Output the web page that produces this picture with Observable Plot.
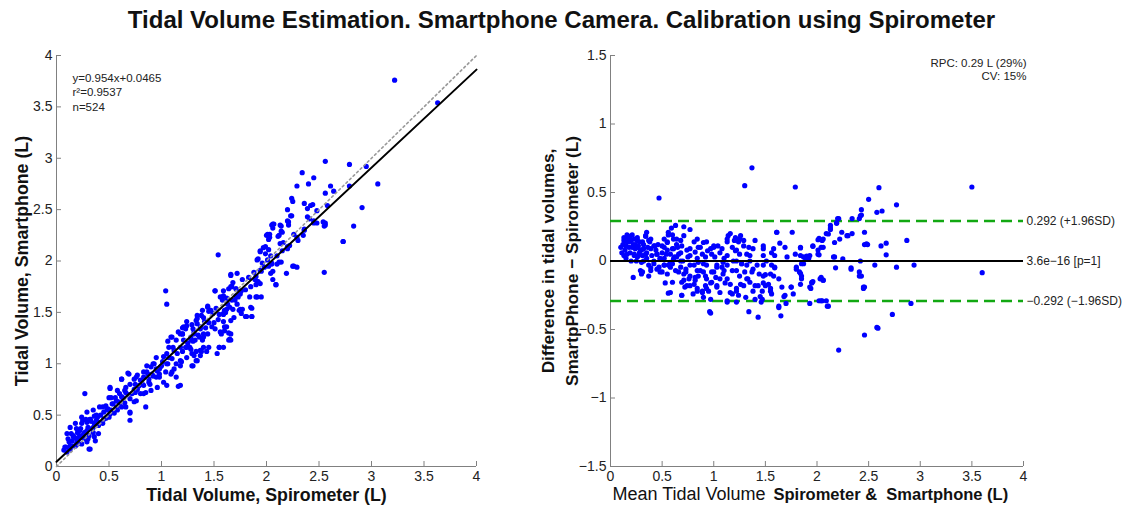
<!DOCTYPE html>
<html><head><meta charset="utf-8">
<script src="https://cdn.jsdelivr.net/npm/d3@7"></script>
<script src="https://cdn.jsdelivr.net/npm/@observablehq/plot@0.6"></script>
<style>
body{margin:0;background:#fff;font-family:"Liberation Sans",Arial,sans-serif;}
#title{height:40px;line-height:40px;text-align:center;font-weight:bold;font-size:24px;color:#111;}
#row{display:flex;}
</style></head><body>
<div id="title">Tidal Volume Estimation. Smartphone Camera. Calibration using Spirometer</div>
<div id="row"><div id="left"></div><div id="right"></div></div>
<script>
// ---------- data ----------
const xTicksLeft = [0,0.5,1,1.5,2,2.5,3,3.5,4];
const yTicksLeft = [0,0.5,1,1.5,2,2.5,3,3.5,4];
const xTicksRight = [0,0.5,1,1.5,2,2.5,3,3.5,4];
const yTicksRight = [-1.5,-1,-0.5,0,0.5,1,1.5];
const fitSlope = 0.954, fitIntercept = 0.0465;
const fitText = "y=0.954x+0.0465\nr²=0.9537\nn=524";
const rpcText = "RPC: 0.29 L (29%)\nCV: 15%";
const meanDiff = 3.6e-16, loaUpper = 0.292, loaLower = -0.292;
const baLineLabels = ["0.292 (+1.96SD)", "3.6e−16 [p=1]", "−0.292 (−1.96SD)"];

// Spirometer (x) vs Smartphone (y), litres
const scatterPoints = [
[3.22,3.76],[3.63,3.54],[1.54,2.06],[2.56,2.97],[2.79,2.94],[2.95,2.92],[2.34,2.86],[2.45,2.81],[2.29,2.73],[2.40,2.75],[2.61,2.73],[2.64,2.68],[2.79,2.73],[3.06,2.75],[2.56,2.66],[2.24,2.61],[2.25,2.58],[2.36,2.56],[2.44,2.55],[2.39,2.51],[2.20,2.50],[2.58,2.54],[2.91,2.52],[2.24,2.44],[2.41,2.41],[2.21,2.38],[2.06,2.36],[2.14,2.34],[2.06,2.32],[2.45,2.37],[2.48,2.37],[2.55,2.34],[2.56,2.37],[2.83,2.34],[2.36,2.30],[2.14,2.29],[2.00,2.25],[2.03,2.26],[2.11,2.24],[2.02,2.21],[2.26,2.26],[2.73,2.19],[2.16,2.18],[2.22,2.15],[1.97,2.13],[1.94,2.10],[2.02,2.11],[1.99,2.07],[1.92,2.02],
[2.55,1.89],[2.25,1.95],[2.29,1.94],[2.19,1.88],[2.14,1.99],[2.10,1.97],[2.02,1.95],[2.04,1.88],[2.06,1.90],[2.09,1.77],[1.91,2.01],[1.96,1.98],[1.94,1.91],[1.88,1.89],[1.91,1.80],[1.94,1.78],[1.89,1.82],[1.83,1.84],[1.77,1.82],[1.72,1.88],[1.66,1.87],[1.68,1.79],[1.66,1.75],[1.71,1.73],[1.76,1.71],[1.91,1.65],[1.95,1.65],[1.71,1.66],[1.62,1.64],[1.67,1.62],[1.59,1.66],[1.63,1.58],[1.72,1.58],[1.77,1.53],[1.76,1.49],[1.86,1.54],[1.86,1.46],[1.81,1.46],[1.68,1.53],[1.62,1.53],[1.59,1.49],[1.52,1.54],[1.51,1.71],[1.45,1.51],[1.49,1.49],[1.44,1.56],[1.54,1.43],[1.59,1.41],[1.60,1.36],[1.64,1.30],[1.66,1.23],[1.57,1.29],[1.55,1.16],[1.51,1.34],[1.48,1.36],[1.39,1.52],[1.34,1.47],[1.41,1.41],[1.34,1.39],[1.29,1.38],[1.37,1.34],[1.44,1.29],[1.39,1.23],[1.31,1.29],[1.28,1.26],[1.23,1.34],[1.20,1.29],[1.24,1.41],[1.20,1.35],[1.16,1.31],[1.14,1.23],[1.09,1.26],[1.06,1.22],[1.07,1.16],[1.12,1.13],[1.18,1.16],[1.23,1.16],[1.28,1.14],[1.33,1.12],[1.38,1.12],[1.43,1.12],[1.31,1.08],[1.29,0.98],[1.34,1.03],[1.18,1.03],[1.14,1.00],[1.18,0.98],[1.12,0.95],[1.04,1.71],[1.05,1.58],[1.02,1.07],[1.01,1.02],[1.07,1.06],[0.99,0.97],[1.04,0.92],[1.09,0.90],[0.96,0.93],[0.93,1.00],[0.90,0.97],[0.91,0.90],[0.86,0.98],[0.86,0.92],[0.98,0.87],[1.02,0.82],[1.05,0.79],[1.16,0.78],[0.96,0.77],[0.88,0.82],[0.83,0.87],[0.80,0.84],[0.77,0.89],[0.83,0.79],[0.77,0.75],[0.80,0.71],[0.85,0.72],[0.85,0.58],[0.90,0.74],[0.75,0.80],[0.70,0.80],[0.69,0.90],[0.74,0.85],[0.72,0.71],[0.70,0.66],[0.74,0.63],[0.66,0.77],[0.62,0.85],[0.66,0.72],[0.63,0.67],[0.58,0.74],[0.56,0.67],[0.59,0.63],[0.70,0.52],[0.70,0.45],[0.66,0.58],[0.62,0.58],[0.58,0.55],[0.53,0.61],[0.51,0.77],[0.50,0.67],[0.47,0.59],[0.48,0.55],[0.51,0.51],[0.45,0.53],[0.42,0.50],[0.45,0.46],[0.39,0.48],[0.36,0.49],[0.32,0.46],[0.28,0.46],[0.27,0.71],[0.29,0.43],[0.24,0.42],[0.36,0.42],[0.40,0.40],[0.34,0.37],[0.29,0.35],[0.23,0.37],[0.20,0.33],[0.16,0.30],[0.26,0.32],[0.31,0.30],[0.36,0.29],[0.37,0.25],[0.21,0.27],[0.15,0.25],[0.12,0.24],[0.09,0.19],[0.13,0.17],[0.18,0.20],[0.24,0.22],[0.29,0.24],[0.32,0.17],[0.10,0.14],[0.07,0.16],
[0.68,0.91],[0.62,0.85],[0.51,0.76],[0.52,0.67],[0.57,0.64],[0.49,0.56],[0.44,0.58],[0.38,0.50],[0.32,0.46],[0.25,0.45],[0.19,0.37],[0.14,0.32],[0.11,0.27],[0.08,0.19],[0.31,0.17],[0.70,0.53],[0.76,0.64],[0.83,0.71],[0.79,0.79],[0.89,0.80],[0.87,0.90],[0.95,0.87],[0.98,0.95],[1.06,1.00],[1.10,0.92],[1.18,0.79],[1.14,0.87],[1.19,1.02],[1.24,1.06],[1.30,0.98],[1.33,1.03],[1.27,1.16],[1.32,1.23],[1.21,1.23],[1.10,1.26],[1.18,1.29],[1.24,1.37],[1.30,1.34],[1.33,1.42],[1.38,1.47],[1.40,1.29],[1.37,1.13],[1.11,1.16],[1.05,1.10],[0.95,1.06],[0.92,1.00],[0.83,0.92],[0.76,0.87],[0.74,0.75],[0.65,0.74],[0.60,0.71],[0.54,0.61],[0.41,0.58],[0.35,0.55],[0.29,0.53],[0.24,0.48],[0.18,0.42],[0.13,0.38],[0.10,0.32],[0.16,0.29],[0.22,0.30],[0.27,0.33],[0.35,0.38],[0.40,0.32],[0.30,0.27],[0.19,0.22],[0.13,0.20],
[2.73,2.19],[2.26,1.95],[2.09,1.77],[2.06,1.82],[1.92,1.80],[1.90,1.77],[1.84,1.65],[1.90,1.65],[1.66,1.86],[1.67,1.75],[1.64,1.73],[1.51,1.71],[1.59,1.71],[1.56,1.65],[1.58,1.62],[1.63,1.63],[1.73,1.65],[1.75,1.70],[1.71,1.73],[1.75,1.53],[1.80,1.46],[1.86,1.46],[1.85,1.55],[1.74,1.52],[1.69,1.45],[1.66,1.42],[1.61,1.50],[1.59,1.48],[1.62,1.36],[1.60,1.32],[1.65,1.24],[1.66,1.29],[1.56,1.31],[1.55,1.16],[1.64,1.23],[1.59,1.16],[1.53,1.10],[1.47,1.52],[1.44,1.55],[1.40,1.45],[1.45,1.40],[1.37,1.36],[1.34,1.44],[1.31,1.31],[1.36,1.26],[1.40,1.26],[1.28,1.23],[1.21,1.36],[1.20,1.29],[1.24,1.16],[1.29,1.10],[1.37,1.08],[1.45,1.16],[1.40,1.16],
[2.01,2.26],[2.03,2.23],[2.05,2.35],[2.07,2.36],[2.13,2.35],[2.15,2.28],[2.12,2.25],[2.20,2.39],[2.23,2.44],[2.21,2.35],[2.29,2.23],[2.36,2.31],[2.39,2.43],[2.45,2.39],[2.42,2.54],[2.48,2.49],[2.54,2.38],[2.56,2.35],[2.20,2.14],[2.15,2.10],[1.94,2.09],[1.99,2.14],[2.01,2.01],[1.98,1.94],[2.05,1.97],[2.12,1.99],[2.04,2.05],[2.13,2.17],
[0.15,0.20],[0.20,0.25],[0.25,0.30],[0.18,0.28],[0.22,0.35],[0.30,0.38],[0.27,0.33],[0.33,0.44],[0.38,0.45],[0.12,0.18],[0.20,0.22],[0.24,0.28],[0.28,0.27],[0.35,0.33],[0.40,0.43],[0.44,0.42],[0.47,0.47],[0.50,0.48],[0.55,0.52],[0.60,0.60],[0.65,0.62],[0.57,0.57],[0.52,0.55],[0.62,0.68],[0.68,0.70],[0.75,0.72],[0.78,0.78],[0.82,0.80],[0.88,0.85],[0.92,0.88],[0.95,0.95],[0.98,0.90],[1.00,0.98],[1.05,1.00],[1.10,1.05],[1.15,1.10],[1.20,1.12],[1.25,1.20],[1.30,1.22],[1.35,1.28],[1.42,1.35],[1.50,1.40],[1.55,1.48],[1.60,1.52],[1.65,1.55],[1.70,1.62],[1.75,1.68],[1.80,1.72],[1.85,1.75],[1.90,1.85],[1.95,1.90],[2.05,1.98],[2.10,2.05],[2.20,2.12],[2.30,2.20],[2.35,2.25]
];

// Bland-Altman: mean (x) vs difference (y), litres
const baPoints = [
[0.47,0.46],[1.30,0.55],[1.37,0.68],[1.79,0.54],[3.50,0.54],[2.60,0.535],[2.50,0.45],[2.77,0.41],[2.43,0.375],[2.58,0.355],[2.63,0.365],[2.42,0.33],[2.34,0.31],[2.21,0.31],[2.19,0.28],[2.13,0.26],[2.13,0.24],[2.09,0.20],[2.24,0.21],[2.30,0.185],[2.34,0.20],[2.46,0.21],[2.87,0.15],[2.67,0.13],[2.62,0.11],[2.46,0.12],[2.49,0.12],[2.22,0.16],[2.17,0.135],[2.02,0.165],[2.04,0.10],[2.06,0.10],[2.01,0.05],[2.16,0.03],[2.25,0.015],[2.67,0.045],[2.42,0.0],[2.56,-0.03],[2.77,-0.045],[2.94,-0.03],[3.60,-0.085],[2.18,-0.05],[2.33,-0.06],[2.41,-0.08],[2.43,-0.11],[2.46,-0.19],[2.45,-0.20],[2.73,-0.39],[2.91,-0.31],[2.59,-0.49],[2.46,-0.54],[2.21,-0.65],[2.10,-0.33],[2.05,-0.29],[2.02,-0.29],[2.06,-0.14],[2.03,-0.13],[1.93,-0.31],[1.93,-0.19],[1.95,-0.16],[1.96,-0.15],[1.89,0.015],[1.87,-0.02],[1.84,0.04],[1.84,0.10],[1.96,0.11],[1.76,0.21],[1.61,0.21],[1.64,0.13],[1.69,0.10],[1.71,0.03],[1.79,0.05],[1.80,-0.045],[1.83,-0.08],[1.85,-0.13],[1.84,-0.17],[1.77,-0.24],[1.75,-0.19],[1.69,-0.25],[1.70,-0.31],[1.65,-0.40],[1.63,-0.34],[1.66,-0.19],[1.63,-0.13],[1.59,-0.045],[1.56,-0.03],[1.55,-0.095],[1.53,-0.17],[1.55,-0.22],[1.56,-0.24],[1.50,-0.18],[1.48,-0.11],[1.48,-0.03],[1.48,0.04],[1.48,0.09],[1.56,0.06],[1.59,0.04],[1.44,-0.095],[1.43,-0.18],[1.47,-0.22],[1.45,-0.26],[1.46,-0.30],[1.43,-0.41],[1.40,-0.28],[1.38,-0.22],[1.34,-0.37],[1.31,-0.265],[1.35,-0.155],[1.33,-0.13],[1.30,-0.08],[1.32,-0.03],[1.38,-0.06],[1.35,0.04],[1.38,0.09],[1.34,0.10],[1.29,0.15],[1.26,0.185],[1.25,0.16],[1.20,0.15],[1.14,0.185],[1.13,0.16],[1.18,0.10],[1.21,0.075],[1.25,0.05],[1.22,0.0],[1.27,-0.02],[1.22,-0.07],[1.25,-0.11],[1.29,-0.18],[1.22,-0.20],[1.18,-0.24],[1.24,-0.25],[1.22,-0.30],[1.13,-0.30],[1.16,-0.17],[1.13,-0.13],[1.09,-0.095],[1.08,-0.045],[1.09,-0.01],[1.13,0.04],[1.08,0.09],[1.04,0.11],[1.00,0.10],[0.98,0.05],[1.01,0.03],[1.03,-0.045],[0.98,-0.08],[1.02,-0.12],[0.98,-0.155],[1.03,-0.19],[1.06,-0.23],[0.96,-0.37],[0.95,-0.22],[0.92,-0.18],[0.93,-0.13],[0.90,-0.08],[0.93,-0.03],[0.92,0.03],[0.94,0.075],[0.90,0.135],[0.87,0.10],[0.84,0.16],[0.82,0.065],[0.85,-0.01],[0.84,-0.07],[0.85,-0.11],[0.82,-0.14],[0.84,-0.22],[0.89,-0.22],[0.90,-0.265],[0.80,-0.24],[0.77,-0.18],[0.76,-0.13],[0.73,-0.08],[0.77,-0.03],[0.75,0.03],[0.77,0.09],[0.77,0.23],[0.71,0.25],[0.71,0.185],[0.68,0.15],[0.69,0.11],[0.66,0.05],[0.70,0.0],[0.68,-0.045],[0.71,-0.095],[0.69,-0.155],[0.72,-0.19],[0.69,-0.25],[0.63,0.26],[0.59,0.24],[0.56,0.19],[0.61,0.16],[0.64,0.12],[0.60,0.09],[0.55,0.135],[0.52,0.16],[0.50,0.11],[0.54,0.05],[0.61,0.015],[0.58,-0.045],[0.63,-0.07],[0.60,-0.155],[0.56,-0.235],[0.55,-0.095],[0.52,-0.03],[0.48,0.015],[0.50,-0.08],[0.47,-0.045],[0.45,0.05],[0.43,0.11],[0.39,0.16],[0.35,0.21],[0.34,0.185],[0.39,-0.07],[0.37,-0.03],[0.31,-0.08],[0.22,-0.12],[0.30,-0.095],
[0.16,0.19],[0.19,0.18],[0.13,0.17],[0.23,0.16],[0.26,0.15],[0.18,0.14],[0.15,0.11],[0.21,0.10],[0.24,0.12],[0.27,0.11],[0.31,0.14],[0.32,0.09],[0.29,0.08],[0.35,0.06],[0.19,0.06],[0.16,0.05],[0.23,0.04],[0.13,0.04],[0.26,0.03],[0.31,0.04],[0.39,0.09],[0.42,0.11],[0.37,0.15],[0.34,0.18],[0.45,0.05],[0.48,0.02],[0.52,0.10],[0.55,0.14],[0.56,0.21],[0.60,0.19],[0.64,0.16],[0.61,0.09],[0.68,0.06],[0.64,0.03],[0.58,-0.01],[0.52,-0.03],[0.45,-0.06],[0.39,-0.05],[0.32,0.00],[0.29,-0.07],[0.37,-0.11],[0.42,-0.02],[0.48,-0.08],[0.56,-0.03],[0.53,-0.16],[0.58,-0.23],[0.69,-0.25],[0.74,-0.18],[0.71,-0.14],[0.77,-0.11],[0.66,-0.08],[0.73,-0.06],[0.81,-0.03],[0.84,0.02],[0.77,0.04],[0.74,0.08],[0.81,0.14],[0.85,0.10],[0.89,0.05],[0.90,-0.02],[0.87,-0.07],[0.92,-0.11],[0.97,-0.16],[0.93,-0.20],[0.89,-0.23],[0.84,-0.20],[0.81,-0.17],[0.82,-0.12],[0.97,-0.28],[1.03,-0.18],[1.06,-0.13],[1.00,-0.08],[1.03,-0.03],[1.10,0.02],[1.06,0.06],[0.97,0.09],[0.93,0.14],[1.00,0.11],[1.13,0.14],[1.16,0.20],[1.21,0.17],[1.24,0.14],[1.22,0.08],[1.29,0.11],[1.32,0.05],[1.35,0.00],[1.40,0.15],[1.42,-0.03],[1.37,-0.08],[1.32,-0.13],[1.26,-0.17],[1.22,-0.22],[1.13,-0.29],[1.16,-0.23],[1.11,-0.16],[1.40,-0.18],[1.47,-0.28],[1.48,-0.16],[1.50,-0.10],[1.48,0.11],[1.51,0.00],[1.58,0.09],[1.61,0.21],[1.59,-0.05],[1.58,-0.11],[1.55,-0.20],[1.13,-0.03],[1.18,-0.07],[1.19,0.00],[1.10,-0.07],[1.27,-0.02],[0.97,-0.38],
[2.48,0.125],[2.45,-0.19],[2.41,-0.11],[2.33,-0.05],[2.17,0.03],[2.29,0.185],[2.11,0.197],[2.13,0.23],[2.20,0.31],[2.19,0.275],[2.06,0.16],[2.05,0.15],[2.01,0.155],[2.01,0.08],[2.02,0.045],[1.96,0.107],[1.91,0.03],[1.92,0.02],[1.93,0.04],[1.90,0.035],[1.95,-0.155],[1.94,-0.20],[2.04,-0.12],[2.06,-0.14],[2.04,-0.29],[2.11,-0.33],[2.09,-0.29],[2.58,-0.485],[2.43,0.335],[2.41,0.31],[1.84,0.095],[1.87,0.03],[1.85,-0.02],[1.80,-0.06],[1.84,-0.09],[1.85,-0.11],[1.75,-0.19],[1.68,-0.26],[1.63,-0.33],
[0.12,0.12],[0.14,0.08],[0.16,0.14],[0.18,0.10],[0.20,0.15],[0.22,0.12],[0.24,0.09],[0.26,0.10],[0.28,0.06],[0.30,0.08],[0.32,0.12],[0.34,0.05],[0.36,0.10],[0.15,0.02],[0.20,0.00],[0.25,0.00],[0.30,-0.01],[0.35,0.02],[0.40,0.04],[0.42,0.00],[0.13,0.15],[0.17,0.17],[0.21,0.19],[0.26,0.17],[0.28,0.14],[0.44,0.08],[0.46,0.12],[0.38,0.14],[0.50,0.06],[0.52,0.02],[0.55,0.08],[0.58,0.05],[0.60,-0.02],[0.62,0.03],[0.65,0.10],[0.68,0.00],[0.11,0.06],[0.10,0.10],[0.23,0.05],[0.27,0.04]
];

// ---------- build ----------
const FONT = '"Liberation Sans", Arial, Helvetica, sans-serif';
const TEXT = "#222", AXIS = "#808080", BLUE = "#0000ff", GREEN = "#12a812";
const fmt = d => String(d).replace("-", "−");
const scatter = scatterPoints.map(([x, y]) => ({x, y}));
const ba = baPoints.map(([x, y]) => ({x, y}));
const xRange = d3.extent(xTicksLeft);
const identityLine = xRange.map(x => ({x, y: x}));
const fitLine = xRange.map(x => ({x, y: fitSlope * x + fitIntercept}));
const baLines = [loaUpper, meanDiff, loaLower].map((y, i) => ({y, label: baLineLabels[i]}));

const left = Plot.plot({
  width: 530, height: 472,
  marginLeft: 56, marginRight: 54, marginTop: 15, marginBottom: 46,
  style: {fontFamily: FONT, fontSize: "14px", color: TEXT, background: "white"},
  x: {domain: [0, 4], label: null},
  y: {domain: [0, 4], label: null},
  marks: [
    Plot.ruleX([0], {stroke: AXIS}),
    Plot.ruleY([0], {stroke: AXIS}),
    Plot.axisX(xTicksLeft, {tickSize: -5, tickPadding: 10, stroke: AXIS, fill: TEXT, tickFormat: fmt}),
    Plot.axisY(yTicksLeft, {tickSize: -5, tickPadding: 9, stroke: AXIS, fill: TEXT, tickFormat: fmt}),
    Plot.dot(scatter, {x: "x", y: "y", r: 2.6, fill: BLUE}),
    Plot.line(identityLine, {x: "x", y: "y", stroke: "#999", strokeWidth: 1.6, strokeDasharray: "2,3"}),
    Plot.line(fitLine, {x: "x", y: "y", stroke: "black", strokeWidth: 2}),
    Plot.text([fitText], {frameAnchor: "top-left", dx: 16, dy: 16, text: d => d, fontSize: 11.5, lineHeight: 1.26, textAnchor: "start", fill: "#222"}),
    Plot.text(["Tidal Volume, Spirometer (L)"], {frameAnchor: "bottom", dy: 34, text: d => d, fontSize: 17.8, fontWeight: "bold", fill: "#111"}),
    Plot.text(["Tidal Volume, Smartphone (L)"], {frameAnchor: "left", dx: -34, rotate: -90, textAnchor: "middle", text: d => d, fontSize: 17.8, fontWeight: "bold", fill: "#111"})
  ]
});
document.getElementById("left").appendChild(left);

const right = Plot.plot({
  width: 593, height: 472,
  marginLeft: 80, marginRight: 100, marginTop: 15, marginBottom: 46,
  style: {fontFamily: FONT, fontSize: "14px", color: TEXT, background: "white"},
  x: {domain: [0, 4], label: null},
  y: {domain: [-1.5, 1.5], label: null},
  marks: [
    Plot.ruleX([0], {stroke: AXIS}),
    Plot.ruleY([-1.5], {stroke: AXIS}),
    Plot.axisX(xTicksRight, {tickSize: -5, tickPadding: 10, stroke: AXIS, fill: TEXT, tickFormat: fmt}),
    Plot.axisY(yTicksRight, {tickSize: -5, tickPadding: 9, stroke: AXIS, fill: TEXT, tickFormat: fmt}),
    Plot.ruleY([loaUpper, loaLower], {stroke: GREEN, strokeWidth: 2.5, strokeDasharray: "11,6"}),
    Plot.dot(ba, {x: "x", y: "y", r: 2.6, fill: BLUE}),
    Plot.ruleY([meanDiff], {stroke: "black", strokeWidth: 2}),
    Plot.text(baLines, {y: "y", text: "label", frameAnchor: "right", textAnchor: "start", dx: 3, fontSize: 12, fill: "#222"}),
    Plot.text([rpcText], {frameAnchor: "top-right", dx: 3, dy: 2, text: d => d, fontSize: 11.5, lineHeight: 1.12, textAnchor: "end", fill: "#222"}),
    Plot.text(["Mean Tidal Volume"], {frameAnchor: "bottom-left", dx: 2, dy: 33, text: d => d, fontSize: 18, textAnchor: "start", fill: "#111"}),
    Plot.text(["Spirometer &  Smartphone (L)"], {frameAnchor: "bottom-left", dx: 163, dy: 33, text: d => d, fontSize: 16.5, fontWeight: "bold", textAnchor: "start", fill: "#111"}),
    Plot.text(["Difference in tidal volumes,"], {frameAnchor: "left", dx: -62, rotate: -90, textAnchor: "middle", text: d => d, fontSize: 17.3, fontWeight: "bold", fill: "#111"}),
    Plot.text(["SmartpPhone − Spirometer (L)"], {frameAnchor: "left", dx: -38, rotate: -90, textAnchor: "middle", text: d => d, fontSize: 17.3, fontWeight: "bold", fill: "#111"})
  ]
});
document.getElementById("right").appendChild(right);
</script></body></html>
